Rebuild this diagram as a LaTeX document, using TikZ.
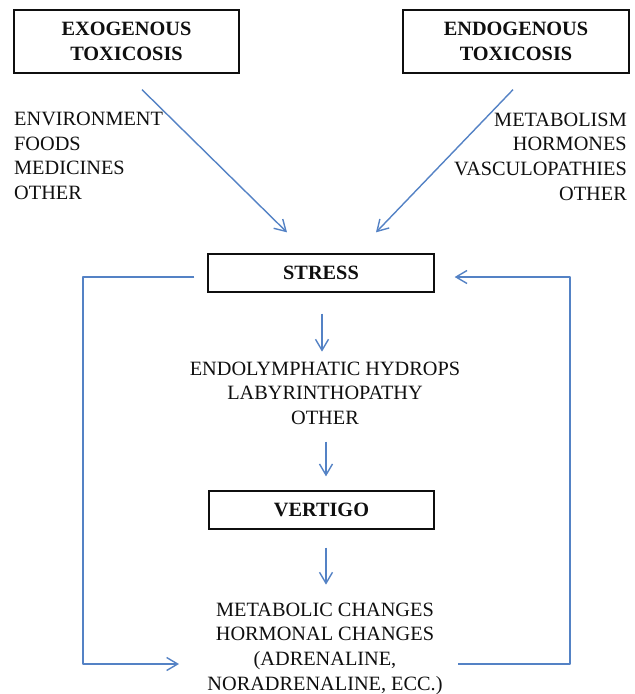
\documentclass[tikz,border=0pt]{standalone}
\usepackage{fontspec}
\setmainfont{Liberation Serif}
\usetikzlibrary{arrows.meta,calc}
\definecolor{lineblue}{RGB}{84,130,197}
\definecolor{ink}{RGB}{15,15,15}
\tikzset{
  box/.style={draw=ink,line width=1.3pt,inner sep=0pt,minimum height=38pt,
    font=\fontsize{20.3}{25}\selectfont\bfseries,text=ink,align=center},
  bigbox/.style={box,minimum height=63pt},
  txt/.style={inner sep=0pt,font=\fontsize{20.3}{24.5}\selectfont,text=ink},
  conn/.style={draw=lineblue,line width=1.4pt,
    -{Straight Barb[length=11pt,width=13pt,line width=1.4pt]}},
  loop/.style={conn,line join=round}
}
\begin{document}
\begin{tikzpicture}[x=1pt,y=-1pt]
\useasboundingbox (0,0) rectangle (635,694);
% boxes
\node[bigbox,minimum width=225pt] (exo) at (126.5,41.5) {EXOGENOUS\\TOXICOSIS};
\node[bigbox,minimum width=226pt] (endo) at (516,41.5) {ENDOGENOUS\\TOXICOSIS};
\node[box,minimum width=226pt] (stress) at (321,273) {STRESS};
\node[box,minimum width=225pt] (vertigo) at (321.5,510) {VERTIGO};
% texts
\node[txt,align=left,anchor=west] (exolist) at (14,156)
  {ENVIRONMENT\\FOODS\\MEDICINES\\OTHER};
\node[txt,align=right,anchor=east,font=\fontsize{20.3}{24.7}\selectfont] (endolist) at (627,156.5)
  {METABOLISM\\HORMONES\\VASCULOPATHIES\\OTHER};
\node[txt,align=center] (hydrops) at (325,393)
  {ENDOLYMPHATIC HYDROPS\\LABYRINTHOPATHY\\OTHER};
\node[txt,align=center,font=\fontsize{20.3}{24.7}\selectfont] (metab) at (325,648.5)
  {METABOLIC CHANGES\\HORMONAL CHANGES\\(ADRENALINE,\\NORADRENALINE, ECC.)};
% connectors
\draw[conn] ($(exo.south)+(15.5,16)$) -- ($(stress.north)+(-34,-21)$);
\draw[conn] ($(endo.south)+(-3,16)$) -- ($(stress.north)+(55,-21)$);
\draw[conn] ($(stress.south)+(1,21)$) -- ($(stress.south)+(1,59)$);
\draw[conn] ($(hydrops.south)+(1,17)$) -- ($(vertigo.north)+(4.5,-14)$);
\draw[conn] ($(vertigo.south)+(4.5,18)$) -- ($(vertigo.south)+(4.5,55)$);
\coordinate (l1) at ($(stress.west)+(-13,4)$);
\coordinate (l2) at (83,277);
\coordinate (l3) at (83,664);
\coordinate (l4) at (179,664);
\draw[loop] (l1) -- (l2) -- (l3) -- (l4);
\coordinate (r1) at (458,664);
\coordinate (r2) at (570,664);
\coordinate (r3) at (570,277);
\coordinate (r4) at ($(stress.east)+(20,4)$);
\draw[loop] (r1) -- (r2) -- (r3) -- (r4);
\end{tikzpicture}
\end{document}
